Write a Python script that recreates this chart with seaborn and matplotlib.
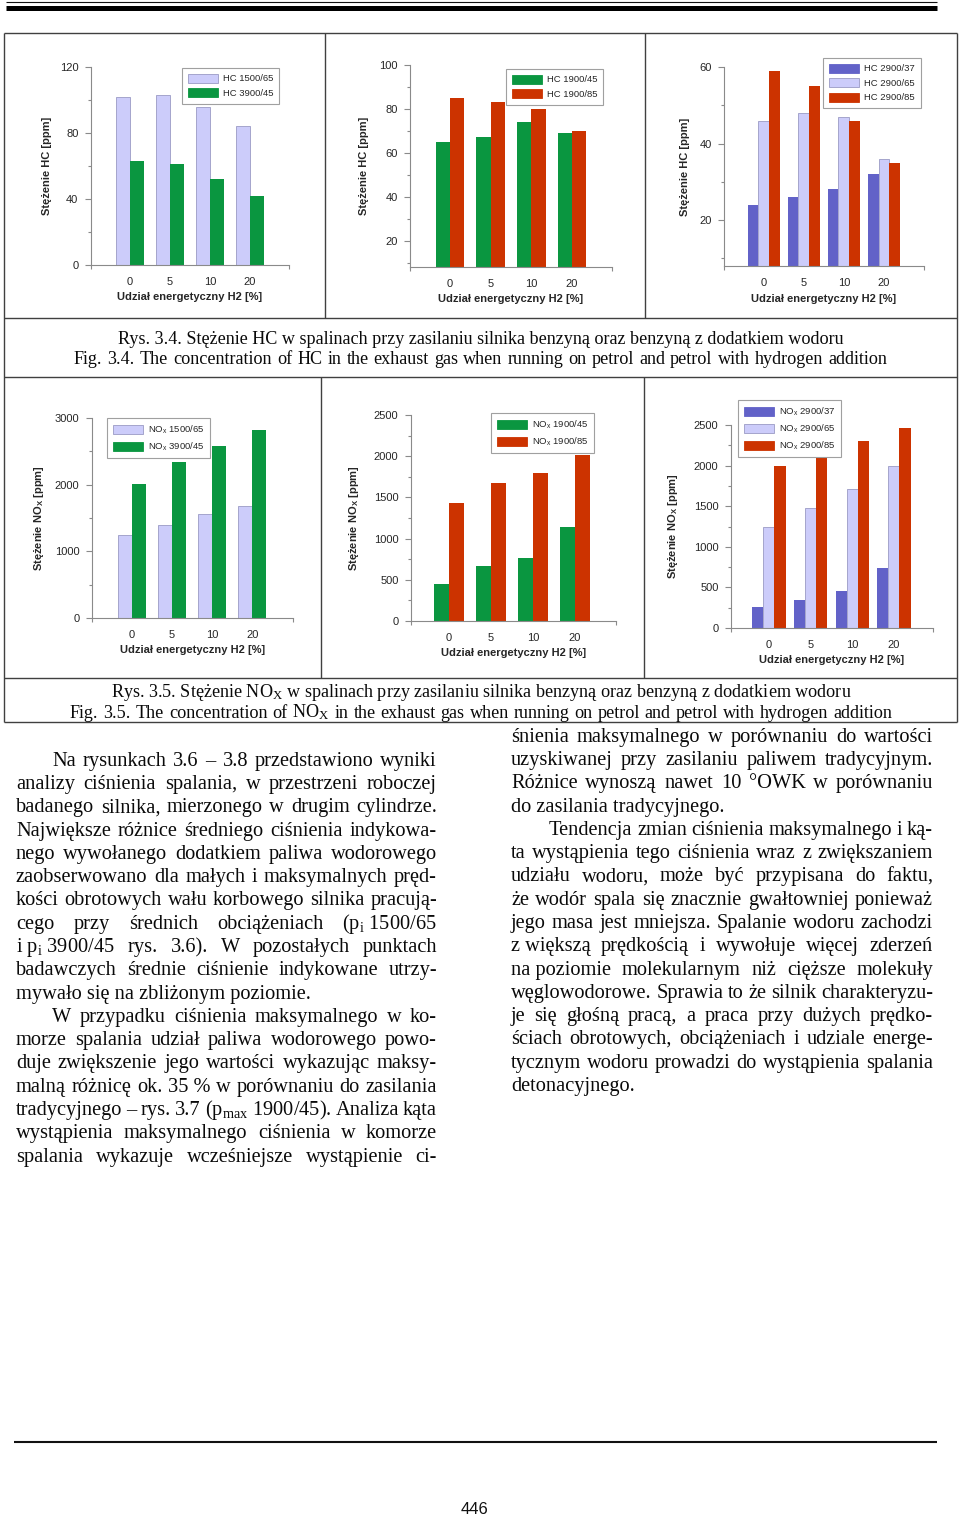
import numpy as np
import pandas as pd
import matplotlib
matplotlib.use('Agg')
import matplotlib.pyplot as plt
import seaborn as sns
from matplotlib.lines import Line2D
from matplotlib.patches import Patch
from matplotlib.ticker import MultipleLocator

# ---------------- data ----------------
cats = ['0', '5', '10', '20']

hc_1500_65 = [102, 103, 96, 84]
hc_3900_45 = [63, 61, 52, 42]
hc_1900_45 = [65, 67, 74, 69]
hc_1900_85 = [85, 83, 80, 70]
hc_2900_37 = [24, 26, 28, 32]
hc_2900_65 = [46, 48, 47, 36]
hc_2900_85 = [59, 55, 46, 35]

nox_1500_65 = [1240, 1390, 1555, 1675]
nox_3900_45 = [2015, 2340, 2585, 2825]
nox_1900_45 = [445, 670, 765, 1145]
nox_1900_85 = [1430, 1680, 1800, 2010]
nox_2900_37 = [260, 345, 455, 735]
nox_2900_65 = [1250, 1480, 1710, 1995]
nox_2900_85 = [2000, 2180, 2300, 2465]

xlabel = 'Udział energetyczny H2 [%]'
ylabel_hc = 'Stężenie HC [ppm]'
ylabel_nox = r'Stężenie NO$_\mathbf{X}$ [ppm]'

caption_34 = ['Rys. 3.4. Stężenie HC w spalinach przy zasilaniu silnika benzyną oraz benzyną z dodatkiem wodoru',
              'Fig. 3.4. The concentration of HC in the exhaust gas when running on petrol and petrol with hydrogen addition']
caption_35 = [r'Rys. 3.5. Stężenie NO$_\mathrm{X}$ w spalinach przy zasilaniu silnika benzyną oraz benzyną z dodatkiem wodoru',
              r'Fig. 3.5. The concentration of NO$_\mathrm{X}$ in the exhaust gas when running on petrol and petrol with hydrogen addition']

left_lines = [
    'Na rysunkach 3.6 – 3.8 przedstawiono wyniki',
    'analizy ciśnienia spalania, w przestrzeni roboczej',
    'badanego silnika, mierzonego w drugim cylindrze.',
    'Największe różnice średniego ciśnienia indykowa-',
    'nego wywołanego dodatkiem paliwa wodorowego',
    'zaobserwowano dla małych i maksymalnych pręd-',
    'kości obrotowych wału korbowego silnika pracują-',
    r'cego przy średnich obciążeniach (p$_\mathrm{i}$~1500/65',
    r'i~p$_\mathrm{i}$~3900/45 rys. 3.6). W pozostałych punktach',
    'badawczych średnie ciśnienie indykowane utrzy-',
    'mywało się na zbliżonym poziomie.',
    'W przypadku ciśnienia maksymalnego w ko-',
    'morze spalania udział paliwa wodorowego powo-',
    'duje zwiększenie jego wartości wykazując maksy-',
    'malną różnicę ok. 35~% w porównaniu do zasilania',
    r'tradycyjnego – rys. 3.7 (p$_\mathrm{max}$~1900/45). Analiza kąta',
    'wystąpienia maksymalnego ciśnienia w komorze',
    'spalania wykazuje wcześniejsze wystąpienie ci-',
]
left_indent = [0, 11]
left_last = [10]

right_lines = [
    'śnienia maksymalnego w porównaniu do wartości',
    'uzyskiwanej przy zasilaniu paliwem tradycyjnym.',
    'Różnice wynoszą nawet 10 °OWK w porównaniu',
    'do zasilania tradycyjnego.',
    'Tendencja zmian ciśnienia maksymalnego i ką-',
    'ta wystąpienia tego ciśnienia wraz z zwiększaniem',
    'udziału wodoru, może być przypisana do faktu,',
    'że wodór spala się znacznie gwałtowniej ponieważ',
    'jego masa jest mniejsza. Spalanie wodoru zachodzi',
    'z~większą prędkością i wywołuje więcej zderzeń',
    'na~poziomie molekularnym niż cięższe molekuły',
    'węglowodorowe. Sprawia to że silnik charakteryzu-',
    'je się głośną pracą, a praca przy dużych prędko-',
    'ściach obrotowych, obciążeniach i udziale energe-',
    'tycznym wodoru prowadzi do wystąpienia spalania',
    'detonacyjnego.',
]
right_indent = [4]
right_last = [3, 15]

page_number = '446'

# ---------------- style ----------------
LAV = '#CCCCFA'
LAV_EDGE = '#9A9AC4'
GREEN = '#0A9640'
RED = '#CC3300'
BLUE = '#6262C8'

sns.set_style('white')
plt.rcParams['font.family'] = ['Liberation Sans', 'DejaVu Sans']
plt.rcParams['mathtext.fontset'] = 'custom'
plt.rcParams['mathtext.rm'] = 'Liberation Serif'
plt.rcParams['mathtext.it'] = 'Liberation Serif:italic'
plt.rcParams['mathtext.sf'] = 'Liberation Sans'
plt.rcParams['mathtext.bf'] = 'Liberation Sans:bold'

W, H = 960, 1516
fig = plt.figure(figsize=(W / 100, H / 100), dpi=100)
fig.patch.set_facecolor('white')
renderer = fig.canvas.get_renderer()


def rect(x0, y0, x1, y1):
    return [x0 / W, 1 - y1 / H, (x1 - x0) / W, (y1 - y0) / H]


def hline(y, x0, x1, lw=1.0, color='#404040'):
    fig.add_artist(Line2D([x0 / W, x1 / W], [1 - y / H, 1 - y / H], lw=lw, color=color,
                          transform=fig.transFigure, solid_capstyle='butt'))


def vline(x, y0, y1, lw=1.0, color='#404040'):
    fig.add_artist(Line2D([x / W, x / W], [1 - y0 / H, 1 - y1 / H], lw=lw, color=color,
                          transform=fig.transFigure, solid_capstyle='butt'))


def measure(s, fs, family, weight='normal'):
    t = fig.text(0, 0, s, fontsize=fs, family=family, weight=weight)
    w = t.get_window_extent(renderer).width
    t.remove()
    return w


def draw_line(s, xl, xr, base, fs, justify, family='Liberation Serif'):
    words = [w.replace('~', ' ') for w in s.split(' ')]
    if not justify or len(words) < 2:
        fig.text(xl / W, 1 - base / H, ' '.join(words), fontsize=fs, family=family,
                 va='baseline', ha='left', color='#0a0a0a')
        return
    widths = [measure(w, fs, family) for w in words]
    gap = (xr - xl - sum(widths)) / (len(words) - 1)
    x = xl
    for w, wd in zip(words, widths):
        fig.text(x / W, 1 - base / H, w, fontsize=fs, family=family,
                 va='baseline', ha='left', color='#0a0a0a')
        x += wd + gap


# ---------------- charts ----------------
charts = [
    dict(box=(91, 67, 289, 265), ylim=(0, 120), major=40, minor=20, xlim=(-0.975, 3.975),
         names=['HC 1500/65', 'HC 3900/45'], vals=[hc_1500_65, hc_3900_45], cols=[LAV, GREEN],
         labels=['HC 1500/65', 'HC 3900/45'], width=0.7, ylabel=ylabel_hc, ylx=47, leg=(182, 68)),
    dict(box=(410, 65, 612, 267), ylim=(8, 100), major=20, minor=10, xlim=(-0.98, 3.98),
         names=['HC 1900/45', 'HC 1900/85'], vals=[hc_1900_45, hc_1900_85], cols=[GREEN, RED],
         labels=['HC 1900/45', 'HC 1900/85'], width=0.7, ylabel=ylabel_hc, ylx=364, leg=(506, 69)),
    dict(box=(724, 67, 924, 266), ylim=(8, 60), major=20, minor=10, xlim=(-0.99, 4.0),
         names=['HC 2900/37', 'HC 2900/65', 'HC 2900/85'], vals=[hc_2900_37, hc_2900_65, hc_2900_85],
         cols=[BLUE, LAV, RED], labels=['HC 2900/37', 'HC 2900/65', 'HC 2900/85'],
         width=0.8, ylabel=ylabel_hc, ylx=685, leg=(823, 58)),
    dict(box=(92, 418, 293, 618), ylim=(0, 3000), major=1000, minor=500, xlim=(-1.0, 4.02),
         names=['NOx 1500/65', 'NOx 3900/45'], vals=[nox_1500_65, nox_3900_45], cols=[LAV, GREEN],
         labels=[r'NO$_\mathsf{x}$ 1500/65', r'NO$_\mathsf{x}$ 3900/45'], width=0.7,
         ylabel=ylabel_nox, ylx=39, leg=(107, 418)),
    dict(box=(411, 415, 616, 621), ylim=(0, 2500), major=500, minor=250, xlim=(-0.9, 3.98),
         names=['NOx 1900/45', 'NOx 1900/85'], vals=[nox_1900_45, nox_1900_85], cols=[GREEN, RED],
         labels=[r'NO$_\mathsf{x}$ 1900/45', r'NO$_\mathsf{x}$ 1900/85'], width=0.7,
         ylabel=ylabel_nox, ylx=354, leg=(491, 413)),
    dict(box=(731, 425, 933, 628), ylim=(0, 2500), major=500, minor=250, xlim=(-0.91, 3.94),
         names=['NOx 2900/37', 'NOx 2900/65', 'NOx 2900/85'], vals=[nox_2900_37, nox_2900_65, nox_2900_85],
         cols=[BLUE, LAV, RED],
         labels=[r'NO$_\mathsf{x}$ 2900/37', r'NO$_\mathsf{x}$ 2900/65', r'NO$_\mathsf{x}$ 2900/85'],
         width=0.8, ylabel=ylabel_nox, ylx=673, leg=(738, 400)),
]

for c in charts:
    x0, y0, x1, y1 = c['box']
    ax = fig.add_axes(rect(x0, y0, x1, y1))
    ax.set_facecolor('none')
    df = pd.DataFrame({
        'udzial': cats * len(c['names']),
        'val': [v for vals in c['vals'] for v in vals],
        'seria': [n for n in c['names'] for _ in cats],
    })
    sns.barplot(data=df, x='udzial', y='val', hue='seria', order=cats, hue_order=c['names'],
                palette=c['cols'], width=c['width'], saturation=1, errorbar=None,
                legend=False, ax=ax, linewidth=0)
    for cont, col in zip(ax.containers, c['cols']):
        for p in cont.patches:
            if col == LAV:
                p.set_edgecolor(LAV_EDGE)
                p.set_linewidth(0.6)
    ax.set_ylim(*c['ylim'])
    ax.set_xlim(*c['xlim'])
    ax.yaxis.set_major_locator(MultipleLocator(c['major']))
    ax.yaxis.set_minor_locator(MultipleLocator(c['minor']))
    ax.set_xticks([c['xlim'][0], c['xlim'][1]], minor=True)
    for s in ['top', 'right']:
        ax.spines[s].set_visible(False)
    for s in ['left', 'bottom']:
        ax.spines[s].set_color('#8a8a8a')
        ax.spines[s].set_linewidth(0.8)
    ax.tick_params(axis='y', which='major', direction='out', length=4, width=0.8,
                   color='#8a8a8a', labelsize=8, pad=5, left=True)
    ax.tick_params(axis='y', which='minor', direction='out', length=2.2, width=0.8,
                   color='#8a8a8a', left=True)
    ax.tick_params(axis='x', which='major', length=0, labelsize=8, pad=8.5)
    ax.tick_params(axis='x', which='minor', direction='out', length=3, width=0.8,
                   color='#8a8a8a', bottom=True)
    ax.set_xlabel(xlabel, fontsize=8, fontweight='bold')
    ax.set_ylabel(c['ylabel'], fontsize=8, fontweight='bold')
    ax.xaxis.set_label_coords(0.5, -32.5 / (y1 - y0))
    ax.xaxis.label.set_va('center')
    ax.yaxis.set_label_coords((c['ylx'] - x0) / (x1 - x0), 0.5)
    ax.yaxis.label.set_va('center')
    handles = [Patch(facecolor=col, edgecolor=(LAV_EDGE if col == LAV else col), linewidth=0.6)
               for col in c['cols']]
    lx, ly = c['leg']
    leg = ax.legend(handles, c['labels'], loc='upper left',
                    bbox_to_anchor=((lx - x0) / (x1 - x0), (y1 - ly) / (y1 - y0)),
                    borderaxespad=0, fontsize=6.8, handlelength=3.2, handleheight=1.1,
                    handletextpad=0.55, labelspacing=0.5, borderpad=0.6, frameon=True,
                    fancybox=False, framealpha=1)
    leg.get_frame().set_edgecolor('#a0a0a0')
    leg.get_frame().set_linewidth(0.8)

# ---------------- page lines / table ----------------
hline(1.5, 6, 937, lw=0.8, color='#111111')
hline(7.5, 6, 937, lw=3.6, color='#000000')

hline(33, 4, 957)
hline(318, 4, 957)
vline(4, 33, 722)
vline(957, 33, 722)
vline(325, 33, 318)
vline(645, 33, 318)
hline(377, 4, 957)
vline(321, 377, 678)
vline(644, 377, 678)
hline(678, 4, 957)
hline(722, 4, 957)

hline(1442, 14, 937, lw=1.5, color='#111111')

# ---------------- captions ----------------
cap_fs = 10 * 732 / measure(caption_34[0], 10, 'Liberation Serif')
fig.text(481 / W, 1 - 343.5 / H, caption_34[0], fontsize=cap_fs, family='Liberation Serif',
         ha='center', va='baseline', color='#0a0a0a')
draw_line(caption_34[1], 74, 887, 364.5, cap_fs, True)
fig.text(481 / W, 1 - 696.5 / H, caption_35[0], fontsize=cap_fs, family='Liberation Serif',
         ha='center', va='baseline', color='#0a0a0a')
draw_line(caption_35[1], 70, 892, 717.5, cap_fs, True)

# ---------------- body text ----------------
body_fs = 10 * 295 / measure('mywało się na zbliżonym poziomie.', 10, 'Liberation Serif')
pitch = 23.29
for i, line in enumerate(left_lines):
    xl = 52 if i in left_indent else 16
    draw_line(line, xl, 437, 765.7 + i * pitch, body_fs, i not in left_last)
for i, line in enumerate(right_lines):
    xl = 549 if i in right_indent else 511
    draw_line(line, xl, 933, 741.7 + i * pitch, body_fs, i not in right_last)

fig.text(474.5 / W, 1 - 1513.5 / H, page_number, fontsize=12, family=['Liberation Sans Narrow', 'Liberation Sans'],
         ha='center', va='baseline', color='#111111')

fig.savefig('out.png', dpi=100, facecolor='white')
